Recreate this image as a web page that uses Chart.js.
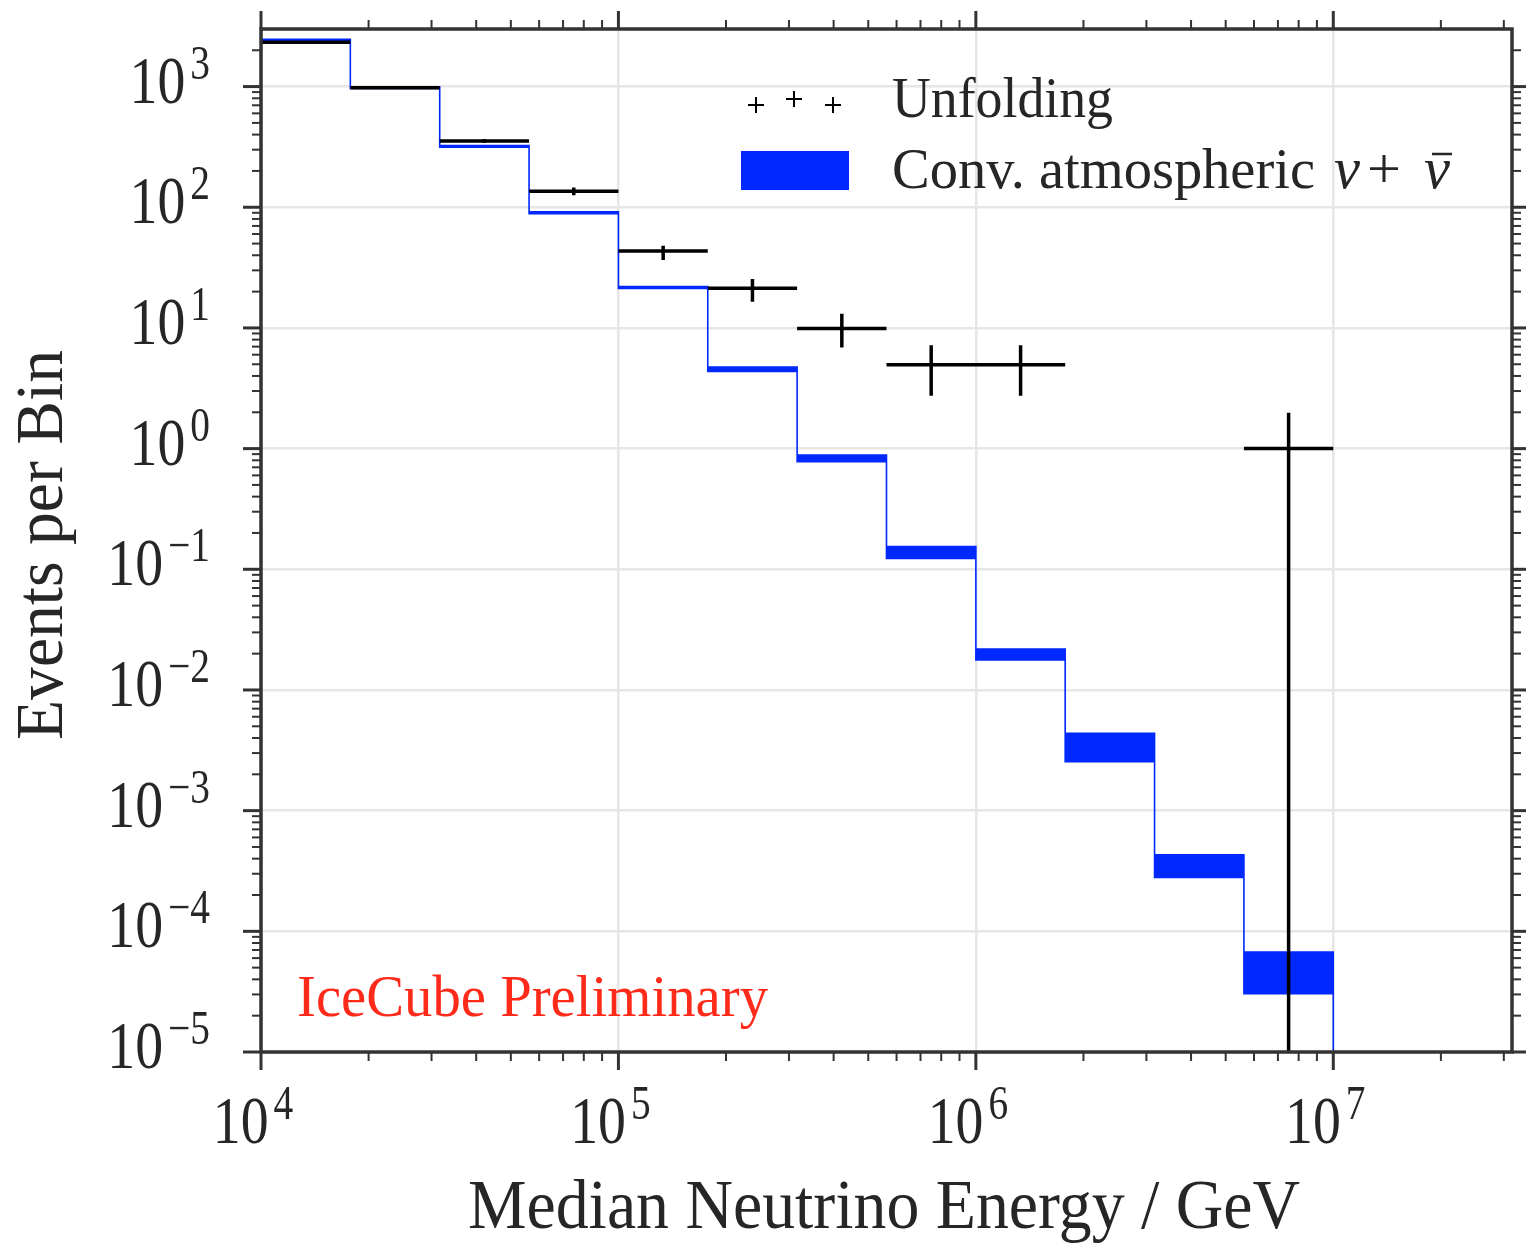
<!DOCTYPE html>
<html>
<head>
<meta charset="utf-8">
<script src="https://cdn.jsdelivr.net/npm/chart.js@4.4.0/dist/chart.umd.min.js"></script>
<style>
  html, body { margin: 0; padding: 0; background: #fff; }
  #wrap { width: 1526px; height: 1243px; }
</style>
</head>
<body>
<div id="wrap"><canvas id="chart" width="1526" height="1243"></canvas></div>
<script>
// quarter-decade energy bins (GeV)
const binEdges = [1e4, 1.778e4, 3.162e4, 5.623e4, 1e5, 1.778e5, 3.162e5, 5.623e5, 1e6, 1.778e6, 3.162e6, 5.623e6, 1e7];
// log-centre of each bin, where the error bars sit
const binCenters = [1.334e4, 2.371e4, 4.217e4, 7.499e4, 1.334e5, 2.371e5, 4.217e5, 7.499e5, 1.334e6, 2.371e6, 4.217e6, 7.499e6];

// conventional atmospheric nu + nubar expectation (band)
const convUpper = [2460, 995, 325, 91.5, 22.0, 4.75, 0.886, 0.154, 0.0218, 0.00438, 0.000431, 6.73e-5];
const convLower = [2410, 965, 315, 88.5, 21.2, 4.35, 0.78, 0.123, 0.0177, 0.00255, 0.00028, 3.04e-5];

// unfolded events per bin (null = no entry)
const unfolding  = [2335, 980, 354, 136, 43.5, 21.3, 9.9, 4.96, 4.96, null, null, 1.0];
const unfoldHigh = [2380, 1000, 368, 146, 47.9, 25.4, 13.1, 7.2, 7.2, null, null, 1.98];
const unfoldLow  = [2290, 960, 342, 126, 36.6, 16.5, 6.9, 2.74, 2.74, null, null, 1e-8]; // last one runs off the axis

// axes
const xTickValues = [1e4, 1e5, 1e6, 1e7];
const xTickExps = ['4', '5', '6', '7'];
const yTickValues = [1e-5, 1e-4, 1e-3, 1e-2, 1e-1, 1, 10, 100, 1000];
const yTickExps = ['-5', '-4', '-3', '-2', '-1', '0', '1', '2', '3'];
const xRange = [1e4, 3.1623e7];
const yRange = [1e-5, 3000];
const BELOW_AXIS = 1e-8;

const BLUE = '#0028ff';
const TEXT = '#262626';
const AXIS = '#333333';
const GRID = '#e6e6e6';
const FONT = '"Liberation Serif", "DejaVu Serif", serif';

// histogram outlines built from the arrays above
const unfoldSteps = [];
const unfoldBars = [];
unfolding.forEach((v, i) => {
  if (v === null) return;
  unfoldSteps.push({x: binEdges[i], y: v}, {x: binEdges[i + 1], y: v}, {x: binEdges[i + 1], y: null});
  unfoldBars.push({x: binCenters[i], y: unfoldLow[i]}, {x: binCenters[i], y: unfoldHigh[i]}, {x: binCenters[i], y: null});
});

const convShape = [];
convUpper.forEach((v, i) => {
  convShape.push({x: binEdges[i], y: v}, {x: binEdges[i + 1], y: v});
});
const nb = convLower.length;
convShape.push({x: binEdges[nb], y: BELOW_AXIS}); // edge drops to the axis
for (let i = nb - 1; i >= 0; i--) {
  convShape.push({x: binEdges[i + 1], y: convLower[i]}, {x: binEdges[i], y: convLower[i]});
}

function drawText(ctx, str, x, y, o) {
  ctx.save();
  ctx.font = (o.italic ? 'italic ' : '') + o.size + 'px ' + FONT;
  ctx.fillStyle = o.color || TEXT;
  ctx.textBaseline = 'alphabetic';
  ctx.textAlign = 'left';
  const w = ctx.measureText(str).width;
  const sx = o.width ? o.width / w : (o.sx || 1);
  const sw = w * sx;
  ctx.translate(x, y);
  if (o.rotate) ctx.rotate(o.rotate);
  const x0 = o.align === 'right' ? -sw : o.align === 'center' ? -sw / 2 : 0;
  ctx.translate(x0, 0);
  ctx.scale(sx, 1);
  ctx.fillText(str, 0, 0);
  ctx.restore();
  return sw;
}

function measure(ctx, str, size, sx) {
  ctx.save();
  ctx.font = size + 'px ' + FONT;
  const w = ctx.measureText(str).width * sx;
  ctx.restore();
  return w;
}

// "10^n" label; x is the anchor, y the baseline of "10"
function drawPow(ctx, exp, x, y, align) {
  const HS = 0.82;
  const sup = exp.replace('-', '\u2212');
  const wb = measure(ctx, '10', 68, HS);
  const ws = measure(ctx, sup, 48, HS);
  const total = wb + 5 + ws;
  const x0 = align === 'right' ? x - total : x - total / 2;
  drawText(ctx, '10', x0, y, {size: 68, sx: HS});
  drawText(ctx, sup, x0 + wb + 5, y - 24, {size: 48, sx: HS});
}

const frame = {
  id: 'frame',
  afterDraw(chart) {
    const {ctx, chartArea: a, scales: {x, y}} = chart;
    ctx.save();
    ctx.strokeStyle = AXIS;
    ctx.lineWidth = 3.5;
    ctx.strokeRect(a.left, a.top, a.right - a.left, a.bottom - a.top);

    const line = (x1, y1, x2, y2, w) => {
      ctx.lineWidth = w;
      ctx.beginPath();
      ctx.moveTo(x1, y1);
      ctx.lineTo(x2, y2);
      ctx.stroke();
    };
    // minor ticks (2..9 per decade), all four sides, pointing out
    const minors = (scale, lo, hi) => {
      const out = [];
      for (let d = Math.floor(Math.log10(lo)); d <= Math.ceil(Math.log10(hi)); d++) {
        for (let m = 2; m <= 9; m++) {
          const v = m * Math.pow(10, d);
          if (v > lo && v < hi * 0.999) out.push(scale.getPixelForValue(v));
        }
      }
      return out;
    };
    minors(x, xRange[0], xRange[1]).forEach(px => {
      line(px, a.bottom, px, a.bottom + 9, 2);
      line(px, a.top, px, a.top - 9, 2);
    });
    minors(y, yRange[0], yRange[1]).forEach(py => {
      line(a.left, py, a.left - 9, py, 2);
      line(a.right, py, a.right + 9, py, 2);
    });
    xTickValues.forEach(v => {
      const px = x.getPixelForValue(v);
      line(px, a.bottom, px, a.bottom + 18, 3);
      line(px, a.top, px, a.top - 18, 3);
    });
    yTickValues.forEach(v => {
      const py = y.getPixelForValue(v);
      line(a.left, py, a.left - 18, py, 3);
      line(a.right, py, a.right + 18, py, 3);
    });
    ctx.restore();

    // tick labels
    xTickValues.forEach((v, i) => drawPow(ctx, xTickExps[i], x.getPixelForValue(v) - 8, a.bottom + 91, 'center'));
    yTickValues.forEach((v, i) => drawPow(ctx, yTickExps[i], 210, y.getPixelForValue(v) + 16, 'right'));

    // axis titles
    drawText(ctx, 'Median Neutrino Energy / GeV', 884, 1228, {size: 70, width: 832, align: 'center'});
    drawText(ctx, 'Events per Bin', 62, 545, {size: 68, width: 390, align: 'center', rotate: -Math.PI / 2});

    // legend
    ctx.save();
    ctx.strokeStyle = '#000';
    [[756, 105], [794, 99], [833, 105]].forEach(([cx, cy]) => {
      line(cx - 8, cy, cx + 8, cy, 2);
      line(cx, cy - 8, cx, cy + 8, 2);
    });
    ctx.fillStyle = BLUE;
    ctx.fillRect(741, 151, 108, 39);
    ctx.restore();
    drawText(ctx, 'Unfolding', 892, 117, {size: 57, width: 221});
    drawText(ctx, 'Conv. atmospheric', 892, 188, {size: 57, width: 423});
    drawText(ctx, '\u03bd', 1334, 188, {size: 60, italic: true, width: 26});
    drawText(ctx, '+', 1384, 188, {size: 57, width: 34, align: 'center'});
    drawText(ctx, '\u03bd', 1424, 188, {size: 60, italic: true, width: 26});
    // bar over the second nu
    ctx.save();
    ctx.strokeStyle = TEXT;
    line(1432, 154, 1452, 154, 2.5);
    ctx.restore();

    drawText(ctx, 'IceCube Preliminary', 297, 1016, {size: 60, width: 471, color: '#ff2a1a'});
  }
};

const chart = new Chart(document.getElementById('chart').getContext('2d'), {
  type: 'scatter',
  data: {
    datasets: [
      {
        label: 'Unfolding',
        data: unfoldSteps,
        showLine: true, spanGaps: false,
        borderColor: '#000', borderWidth: 3.5,
        pointRadius: 0, order: 0
      },
      {
        label: 'Unfolding uncertainty',
        data: unfoldBars,
        showLine: true, spanGaps: false,
        borderColor: '#000', borderWidth: 3.5,
        pointRadius: 0, order: 1
      },
      {
        label: 'Conv. atmospheric',
        data: convShape,
        showLine: true,
        borderColor: BLUE, borderWidth: 1.6,
        backgroundColor: BLUE, fill: 'shape',
        pointRadius: 0, order: 2
      }
    ]
  },
  options: {
    responsive: false,
    animation: false,
    events: [],
    layout: { padding: { left: 261, right: 14, top: 29, bottom: 191 } },
    plugins: { legend: { display: false }, tooltip: { enabled: false } },
    scales: {
      x: {
        type: 'logarithmic', min: xRange[0], max: xRange[1],
        afterBuildTicks: s => { s.ticks = xTickValues.map(v => ({value: v})); },
        ticks: { display: false },
        grid: { color: GRID, lineWidth: 2.5, drawTicks: false },
        border: { display: false }
      },
      y: {
        type: 'logarithmic', min: yRange[0], max: yRange[1],
        afterBuildTicks: s => { s.ticks = yTickValues.map(v => ({value: v})); },
        ticks: { display: false },
        grid: { color: GRID, lineWidth: 2.5, drawTicks: false },
        border: { display: false }
      }
    }
  },
  plugins: [frame]
});

// pin the plot area to where the reference has it
const want = { left: 261, top: 29, right: 1512, bottom: 1052 };
const ca = chart.chartArea;
const pad = chart.options.layout.padding;
pad.left += want.left - ca.left;
pad.top += want.top - ca.top;
pad.right += ca.right - want.right;
pad.bottom += ca.bottom - want.bottom;
chart.update('none');
</script>
</body>
</html>
